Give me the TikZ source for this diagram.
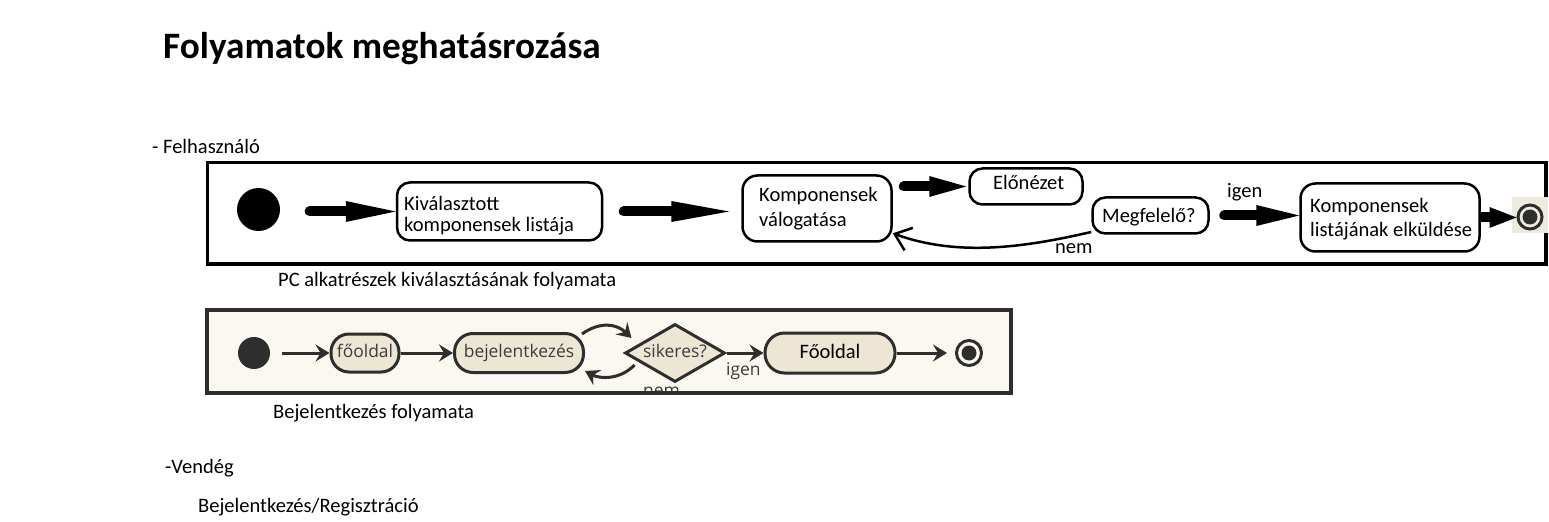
\documentclass[tikz,border=0pt]{standalone}
\usepackage{fontspec}
\setmainfont{Carlito}
\newfontfamily\uifont{Open Sans}
\usetikzlibrary{arrows.meta,shapes.geometric,calc}
\definecolor{ink}{HTML}{2E2E2E}
\definecolor{uitext}{HTML}{3C3C3C}
\definecolor{cream}{HTML}{FAF8F1}
\definecolor{pillfill}{HTML}{EDE6D5}
\definecolor{endbg}{HTML}{EEEAE0}
\begin{document}
\begin{tikzpicture}[x=1bp,y=-1bp,
  txt/.style={anchor=base west, inner sep=0pt, font=\fontsize{20.6}{24}\selectfont},
  uitxt/.style={anchor=base west, inner sep=0pt, font=\uifont\fontsize{17.5}{20}\selectfont, text=uitext},
  box/.style={draw, line width=2.5bp, rounded corners=13bp, inner sep=0pt},
  fat/.style={line width=10bp, line cap=round, -{Triangle[length=#1, width=21bp, line width=0pt]}},
  fat/.default=45bp,
  nemline/.style={line width=2.5bp, -{Straight Barb[length=15bp, width=24bp]}},
  pill/.style={draw=ink, fill=pillfill, line width=3bp, inner sep=0pt, text height=12.5bp, text depth=3.5bp,
    font=\uifont\fontsize{17.5}{20}\selectfont, text=uitext},
  tarr/.style={draw=ink, line width=3bp, -{Stealth[length=14bp, width=17bp, inset=5bp]}},
  endring/.style={circle, draw=ink, line width=3bp, inner sep=0pt,
    path picture={\fill[ink] (path picture bounding box.center) circle (7.5bp);}},
]
\useasboundingbox (0,0) rectangle (1549,522);

% headings
\node[anchor=base west, inner sep=0pt, font=\bfseries\fontsize{37.4}{40}\selectfont] (title) at (163,59) {Folyamatok meghatásrozása};
\node[txt] (felh) at (152,154) {- Felhasználó};

% ---------- diagram 1 ----------
\node[draw, line width=3.5bp, minimum width=1338.5bp, minimum height=101.5bp, inner sep=0pt] (f1) at (876.75,213.25) {};
\node[circle, fill=black, minimum size=43bp, inner sep=0pt] (s1) at (258.5,209.5) {};

\node[box, minimum width=205bp, minimum height=58bp] (b1) at (499.5,211.5) {};
\node[txt] (b1a) at (404,211) {Kiválasztott};
\node[txt] (b1b) at (404,232) {komponensek listája};

\node[box, minimum width=149bp, minimum height=66bp, rounded corners=15bp] (b2) at (817,208.5) {};
\node[txt] (b2a) at (759,202) {Komponensek};
\node[txt] (b2b) at (759,227) {válogatása};

\node[box, minimum width=113bp, minimum height=36bp] (elo) at (1026,186.5) {};
\node[txt] (elot) at (993,190) {Előnézet};

\node[box, minimum width=116bp, minimum height=36bp] (megf) at (1150.5,215.5) {};
\node[txt] (megft) at (1102,223) {Megfelelő?};

\node[box, minimum width=179bp, minimum height=68bp, rounded corners=15bp] (b5) at (1390,217.5) {};
\node[txt] (b5a) at (1310,213) {Komponensek};
\node[txt] (b5b) at (1310,237) {listájának elküldése};

\node[fill=endbg, minimum size=36bp, inner sep=0pt] (e1bg) at (1530,215) {};
\node[endring, minimum size=24bp] (e1) at (1530,217) {};

\draw[fat=50bp, shorten <=29.5bp] (s1.east |- b1.west) -- (b1.west);
\draw[fat=58bp, shorten <=20.5bp, shorten >=12bp] (b1.east) -- (b2.west |- b1.east);
\draw[fat=37bp, shorten <=11bp, shorten >=2bp] (b2.east |- elo.west) -- (elo.west);
\draw[fat=43bp, shorten <=14.5bp] (megf.east) -- (b5.west |- megf.east);
\draw[fat=27bp, line cap=butt] (b5.east) -- (e1.west |- b5.east);
\draw[nemline] ([yshift=-16.5bp]megf.west) .. controls (1030,246) and (960,258) .. ([yshift=9.5bp]b2.south east);

\node[txt] (igen1) at (1227,198) {igen};
\node[txt] (nem1) at (1055,254) {nem};

\node[txt] (cap1) at (278,287) {PC alkatrészek kiválasztásának folyamata};

% ---------- diagram 2 ----------
\node[draw=ink, fill=cream, line width=4bp, minimum width=804bp, minimum height=82.5bp, inner sep=0pt] (f2) at (609,351.25) {};
\node[circle, fill=ink, minimum size=32bp, inner sep=0pt] (s2) at (254,353) {};
\node[pill, minimum width=68bp, minimum height=38bp, rounded corners=18bp] (p1) at (365,353) {főoldal};
\node[pill, minimum width=129bp, minimum height=39bp, rounded corners=18.5bp] (p2) at (519,353) {bejelentkezés};
\node[pill, diamond, aspect=1.72, minimum width=100bp, minimum height=58bp] (dia) at (675,353) {sikeres?};
\node[pill, font=\fontsize{20.6}{24}\selectfont, text=black, text height=14bp, text depth=4bp, minimum width=130bp, minimum height=40bp, rounded corners=19.5bp] (p3) at (830,353) {Főoldal};
\node[endring, minimum size=25bp] (e2) at (969,353) {};

\draw[tarr, shorten <=12bp] (s2.east) -- (p1.west);
\draw[tarr] (p1.east) -- (p2.west);
\draw[tarr] (dia.east) -- (p3.west);
\draw[tarr, shorten >=8bp] (p3.east) -- (e2.west);
\draw[tarr] ([shift={(-3,2)}]p2.north east) .. controls (600,321) and (617,324) .. ([shift={(8,-15)}]dia.west);
\draw[tarr] ([shift={(11,12)}]dia.west) .. controls (620,380) and (600,379) .. ([shift={(0,-3)}]p2.south east);

\node[uitxt] (igen2) at (726,375) {igen};
\begin{scope}
  \clip (209,312) rectangle (1009,390.5);
  \node[uitxt] (nem2) at (643,396.5) {nem};
\end{scope}

\node[txt] (cap2) at (273,418) {Bejelentkezés folyamata};

\node[txt] (vend) at (165,473) {-Vendég};
\node[txt] (breg) at (198,512) {Bejelentkezés/Regisztráció};
\end{tikzpicture}
\end{document}
